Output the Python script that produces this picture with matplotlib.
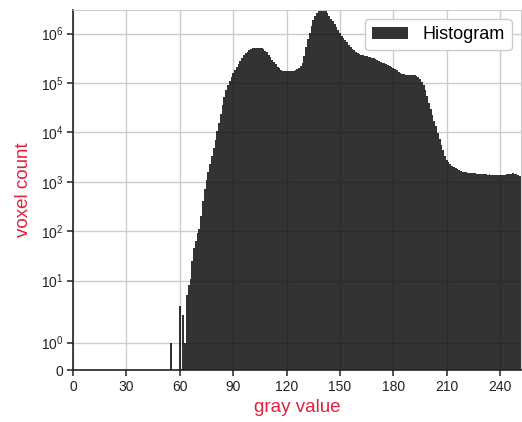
import matplotlib
matplotlib.use("Agg")
import matplotlib.pyplot as plt
import numpy as np

plt.rcParams['font.family'] = ['Liberation Sans', 'DejaVu Sans']
plt.rcParams['mathtext.fontset'] = 'custom'
plt.rcParams['mathtext.rm'] = 'Liberation Sans'
plt.rcParams['mathtext.it'] = 'Liberation Sans:italic'

# isolated bins
sparse_gray = [55, 60, 62, 63]
sparse_count = [1, 3, 2, 1]

# continuous part of the histogram, gray values 64..251
gray_start = 64
counts = [
    5, 8, 11, 25, 45, 63, 90, 112, 200, 400,                       # 64-73
    710, 1100, 1600, 2300, 3300, 4800, 7100, 10500, 15800, 24000,  # 74-83
    36000, 52000, 71000, 91000, 112000, 135000, 158000, 186000, 214000, 245000,  # 84-93
    282000, 324000, 363000, 398000, 427000, 457000, 479000, 501000, 513000, 519000,  # 94-103
    519000, 513000, 501000, 479000, 452000, 417000, 372000, 331000, 295000, 263000,  # 104-113
    237000, 214000, 200000, 186000, 178000, 174000, 172000, 172000, 172000, 174000,  # 114-123
    176000, 182000, 191000, 204000, 224000, 257000, 355000, 525000, 759000, 1050000,  # 124-133
    1450000, 1900000, 2290000, 2630000, 2820000, 2880000, 2950000, 2880000, 2820000, 2570000,  # 134-143
    2290000, 2000000, 1780000, 1550000, 1350000, 1170000, 1020000, 912000, 832000, 741000,  # 144-153
    661000, 589000, 525000, 490000, 457000, 427000, 407000, 389000, 372000, 363000,  # 154-163
    355000, 347000, 339000, 331000, 324000, 316000, 302000, 288000, 275000, 269000,  # 164-173
    257000, 251000, 240000, 229000, 219000, 209000, 204000, 195000, 182000, 170000,  # 174-183
    162000, 155000, 151000, 148000, 148000, 148000, 148000, 148000, 145000, 141000,  # 184-193
    132000, 120000, 107000, 89000, 71000, 54000, 40000, 29500, 22400, 17000,  # 194-203
    13200, 9800, 7400, 5600, 4400, 3400, 2800, 2500, 2300, 2100,  # 204-213
    1950, 1860, 1780, 1700, 1620, 1600, 1580, 1550, 1530, 1510,  # 214-223
    1500, 1490, 1480, 1470, 1430, 1450, 1420, 1440, 1410, 1390,  # 224-233
    1420, 1400, 1380, 1400, 1350, 1370, 1390, 1380, 1360, 1400,  # 234-243
    1420, 1440, 1460, 1480, 1460, 1420, 1380, 1300,  # 244-251
]

gray = sparse_gray + list(range(gray_start, gray_start + len(counts)))
values = sparse_count + counts

x_ticks = [0, 30, 60, 90, 120, 150, 180, 210, 240]
y_ticks = [0, 1, 10, 100, 1000, 10000, 100000, 1000000]
y_ticklabels = ['0', r'$10^0$', r'$10^1$', r'$10^2$', r'$10^3$', r'$10^4$', r'$10^5$', r'$10^6$']

label_color = '#e0203f'

fig = plt.figure(figsize=(5.22, 4.22), dpi=100)
ax = fig.add_axes([73 / 522, 52 / 422, 448 / 522, 360 / 422])

ax.bar(gray, values, width=1.0, color='black', alpha=0.8, linewidth=0, label='Histogram')

ax.set_yscale('symlog', linthresh=2, linscale=1)
ax.set_xlim(0, 251.7)
ax.set_ylim(0, 3.0e6)

ax.set_xticks(x_ticks)
ax.set_xticklabels([str(t) for t in x_ticks])
ax.set_yticks(y_ticks)
ax.set_yticklabels(y_ticklabels)
ax.yaxis.set_minor_locator(matplotlib.ticker.NullLocator())

ax.set_axisbelow(True)
ax.grid(True, color='#cccccc', linewidth=1.0)

for s in ['top', 'right']:
    ax.spines[s].set_color('#cccccc')
for s in ['left', 'bottom']:
    ax.spines[s].set_color('#222222')
    ax.spines[s].set_linewidth(1.2)

ax.tick_params(axis='both', which='major', labelsize=10, length=4, width=1.1,
               color='#222222', labelcolor='#222222', direction='out', pad=3)

ax.set_xlabel('gray value', color=label_color, fontsize=13.5, labelpad=4)
ax.set_ylabel('voxel count', color=label_color, fontsize=13.5, labelpad=6)

leg = ax.legend(loc='upper right', fontsize=13, frameon=True, fancybox=True,
                edgecolor='#cccccc', framealpha=1.0)

fig.savefig('out.png', dpi=100)
